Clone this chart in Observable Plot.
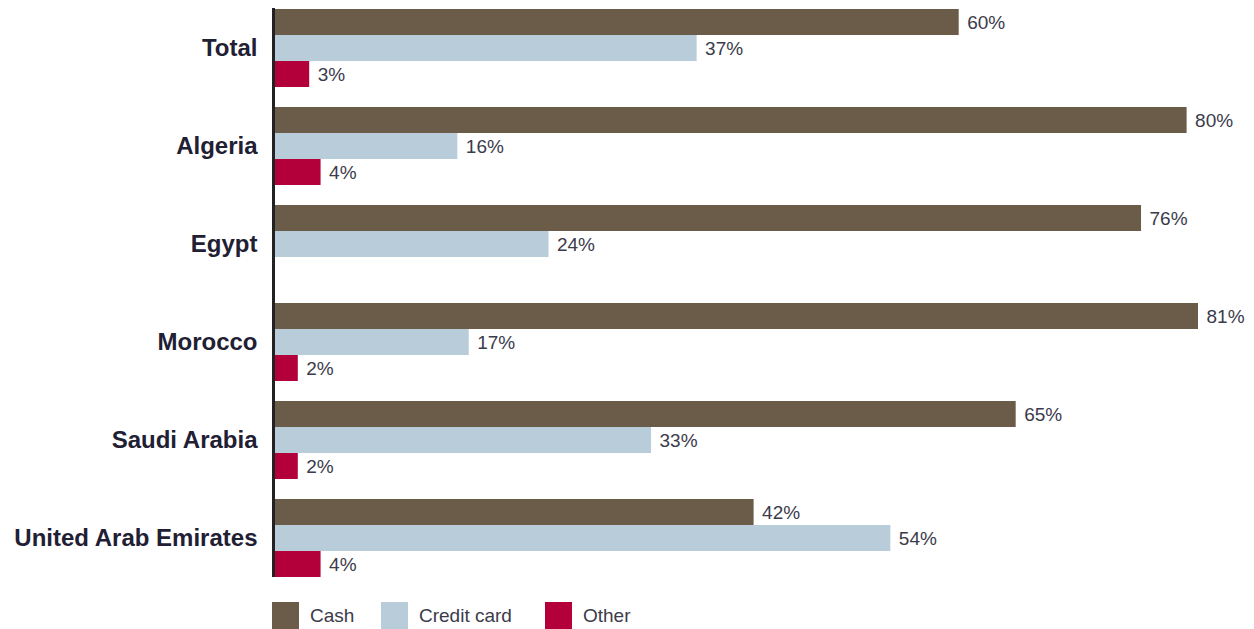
<!DOCTYPE html>
<html>
<head>
<meta charset="utf-8">
<script src="https://cdn.jsdelivr.net/npm/d3@7"></script>
<script src="https://cdn.jsdelivr.net/npm/@observablehq/plot@0.6"></script>
<style>
  html, body { margin: 0; padding: 0; background: #fff; }
  #wrap { position: relative; width: 1254px; height: 629px; overflow: hidden; font-family: "Liberation Sans", Arial, sans-serif; }
  #legend { position: absolute; top: 602px; left: 0; height: 27px; width: 1254px; }
  .item { position: absolute; top: 0; height: 27px; display: flex; align-items: center; font-size: 19px; color: #3b3b4b; }
  .sw { width: 27px; height: 27px; margin-right: 11px; }
</style>
</head>
<body>
<div id="wrap">
  <div id="chart"></div>
  <div id="legend"></div>
</div>
<script>
const countries = ["Total", "Algeria", "Egypt", "Morocco", "Saudi Arabia", "United Arab Emirates"];
const types = ["Cash", "Credit card", "Other"];
const cash = [60, 80, 76, 81, 65, 42];
const credit = [37, 16, 24, 17, 33, 54];
const other = [3, 4, null, 2, 2, 4];
const colors = ["#6b5b49", "#b8ccda", "#b4003a"];

const series = [cash, credit, other];
const rows = countries.flatMap((c, i) =>
  types.map((t, k) => ({country: c, type: t, value: series[k][i]}))
).filter(d => d.value != null);

const axisStyle = {stroke: "#222", strokeWidth: 3, dx: -2};

const chart = Plot.plot({
  width: 1254,
  height: 590,
  marginLeft: 275,
  marginRight: 56,
  marginTop: 7,
  marginBottom: 11,
  style: {fontFamily: "'Liberation Sans', Arial, sans-serif", background: "transparent"},
  x: {domain: [0, 81], axis: null},
  y: {domain: types, axis: null, padding: 0},
  fy: {domain: countries, paddingInner: 0.19, paddingOuter: 0, axis: null},
  color: {domain: types, range: colors},
  marks: [
    Plot.barX(rows, {x: "value", y: "type", fy: "country", fill: "type"}),
    Plot.text(rows, {
      x: "value", y: "type", fy: "country",
      text: d => d.value + "%",
      textAnchor: "start", dx: 8, fontSize: 19, fill: "#3b3b4b"
    }),
    Plot.ruleX(countries.slice(0, -1), {x: () => 0, fy: d => d, insetBottom: -19, ...axisStyle}),
    Plot.ruleX(countries.slice(-1), {x: () => 0, fy: d => d, ...axisStyle}),
    Plot.axisFy({
      anchor: "left", tickSize: 0, tickPadding: 18, label: null,
      fontSize: 24, fontWeight: "bold", fill: "#1f2033"
    })
  ]
});
document.getElementById("chart").appendChild(chart);

const legendLeft = [272, 381, 545];
const legend = document.getElementById("legend");
types.forEach((t, i) => {
  const item = document.createElement("div");
  item.className = "item";
  item.style.left = legendLeft[i] + "px";
  const sw = document.createElement("div");
  sw.className = "sw";
  sw.style.background = colors[i];
  const lab = document.createElement("span");
  lab.textContent = t;
  item.appendChild(sw);
  item.appendChild(lab);
  legend.appendChild(item);
});
</script>
</body>
</html>
